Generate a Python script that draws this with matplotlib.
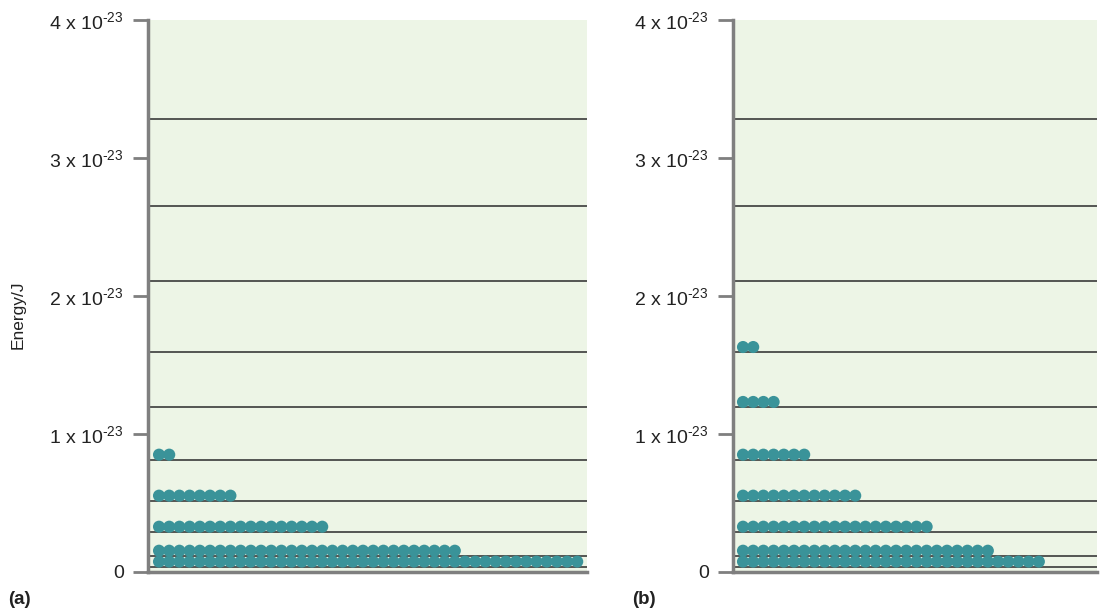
import matplotlib.pyplot as plt
from matplotlib.transforms import ScaledTranslation

plt.rcParams['font.family'] = ['Liberation Sans', 'DejaVu Sans']
plt.rcParams['mathtext.fontset'] = 'custom'
plt.rcParams['mathtext.rm'] = 'Liberation Sans'
plt.rcParams['mathtext.it'] = 'Liberation Sans'

# energy levels (units of 1e-23 J)
levels = [0.039, 0.118, 0.292, 0.517, 0.814, 1.196, 1.594, 2.109, 2.652, 3.283]

# particles per level, bottom level first
counts_a = [42, 30, 17, 8, 2]
counts_b = [30, 25, 19, 12, 7, 4, 2]

yticks = [0, 1, 2, 3, 4]
ytick_labels = ['0', r'1 x 10$^{\text{-23}}$', r'2 x 10$^{\text{-23}}$',
                r'3 x 10$^{\text{-23}}$', r'4 x 10$^{\text{-23}}$']

DOT = '#3a9399'
BG = '#edf5e6'
AXC = '#7f7f7f'

fig = plt.figure(figsize=(11.11, 6.09), dpi=100)

panels = [
    ([148/1111, 37/609, 439/1111, 552/609], counts_a, (-1.08, 41.96), '(a)', 8),
    ([733/1111, 37/609, 364/1111, 552/609], counts_b, (-0.98, 34.7), '(b)', 632),
]

for rect, counts, xlim, tag, tagx in panels:
    ax = fig.add_axes(rect)
    ax.set_facecolor(BG)
    ax.set_xlim(*xlim)
    ax.set_ylim(0, 4)

    for e in levels:
        ax.axhline(e, color='#3a3a3a', lw=1.2, zorder=1)

    shift = ax.transData + ScaledTranslation(0, 5/100, fig.dpi_scale_trans)
    for lvl, n in enumerate(counts):
        xs = list(range(n))
        ax.scatter(xs, [levels[lvl]] * n, s=76, color=DOT, edgecolors='none',
                   transform=shift, zorder=3, clip_on=False)

    for s in ['top', 'right']:
        ax.spines[s].set_visible(False)
    for s in ['left', 'bottom']:
        ax.spines[s].set_color(AXC)
        ax.spines[s].set_linewidth(2.5)

    ax.set_xticks([])
    ax.set_yticks(yticks)
    ax.set_yticklabels(ytick_labels, fontsize=14, color='#222222')
    ax.tick_params(axis='y', length=10.5, width=2, color=AXC, pad=7)

    fig.text(tagx/1111, 1 - 599/609, tag, fontsize=13.5, fontweight='bold',
             va='center', ha='left', color='#222222')

fig.text(18/1111, 1 - 315/609, 'Energy/J', rotation=90, fontsize=12.5,
         va='center', ha='center', color='#222222')

fig.savefig('out.png', dpi=100)
